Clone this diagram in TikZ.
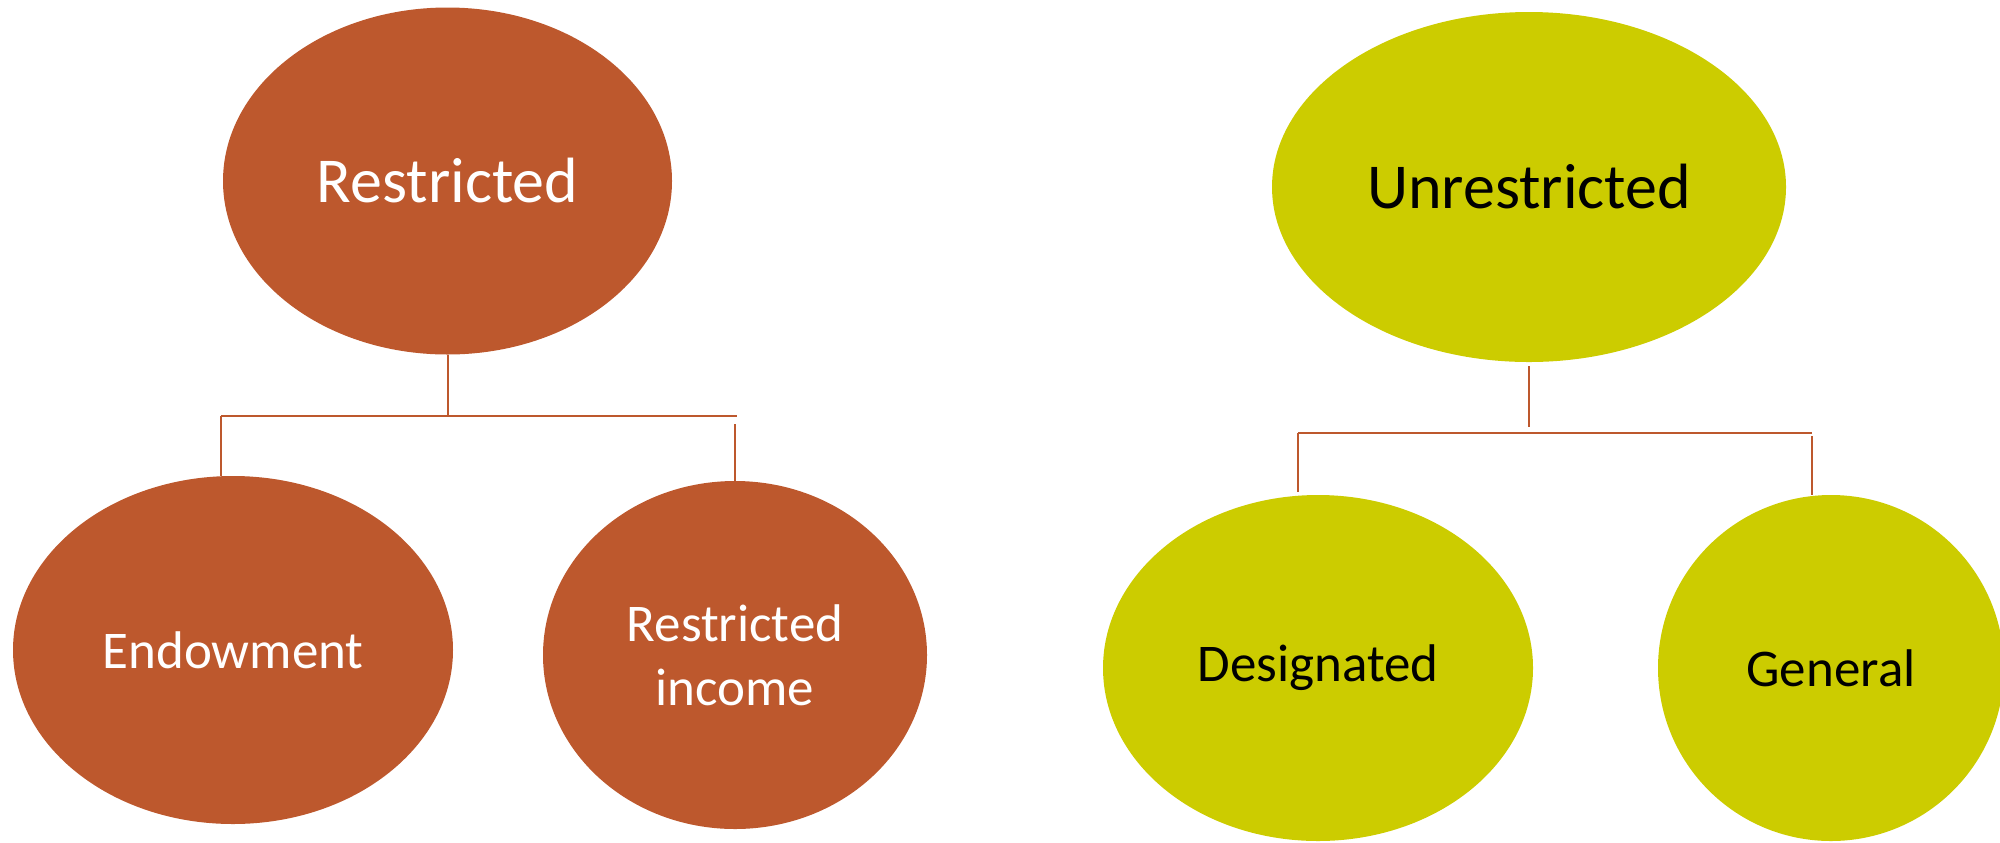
\documentclass[tikz,border=0pt]{standalone}
\usepackage{fontspec}
\setmainfont{Carlito}
\usetikzlibrary{shapes.geometric}
\definecolor{fundrust}{RGB}{189,88,45}
\definecolor{fundlime}{RGB}{204,204,0}

\begin{document}
\begin{tikzpicture}[x=0.5pt,y=-0.5pt,
        fund/.style={ellipse,inner sep=0pt,align=center,
                font=\fontsize{26.5}{32}\selectfont},
        topfund/.style={font=\fontsize{32}{38}\selectfont},
        restr/.style={fund,fill=fundrust,text=white},
        unres/.style={fund,fill=fundlime,text=black},
        link/.style={draw=fundrust,line width=1pt}]
        \useasboundingbox (0,0) rectangle (2000,842);

        % the restricted funds
        \node[restr,topfund,minimum width=224.5pt,minimum height=173.5pt] (restricted) at (447.5,181) {Restricted};
        \node[restr,minimum width=220pt,minimum height=174pt] (endowment) at (233,650) {Endowment};
        \node[restr,minimum width=192pt,minimum height=174pt] (income) at (735,655) {Restricted\\income};

        % the unrestricted funds
        \node[unres,topfund,minimum width=257pt,minimum height=175pt] (unrestricted) at (1529,187) {Unrestricted};
        \node[unres,minimum width=215pt,minimum height=173pt] (designated) at (1318,668) {Designated};
        \node[unres,minimum width=173pt,minimum height=173pt] (general) at (1831,668) {General};

        % the elbow points of the connectors
        \coordinate (rtee) at (448,416);
        \coordinate (rleft) at (221,416);
        \coordinate (rright) at (737,416);
        \coordinate (rdrop) at (735,424);
        \coordinate (utee) at (1534,427);
        \coordinate (uleft) at (1298,433);
        \coordinate (uright) at (1812,433);
        \coordinate (udrop) at (1812,436);

        % draw the connectors
        \draw[link] (restricted.south) -- (restricted.south |- rtee);
        \draw[link] (rleft) -- (rright);
        \draw[link] (rleft) -- (rleft |- endowment.north);
        \draw[link] (rdrop) -- (rdrop |- income.north);

        \draw[link,shorten <=2pt] (unrestricted.south) -- (unrestricted.south |- utee);
        \draw[link] (uleft) -- (uright);
        \draw[link,shorten >=1.5pt] (uleft) -- (uleft |- designated.north);
        \draw[link] (udrop) -- (udrop |- general.north);
\end{tikzpicture}
\end{document}
